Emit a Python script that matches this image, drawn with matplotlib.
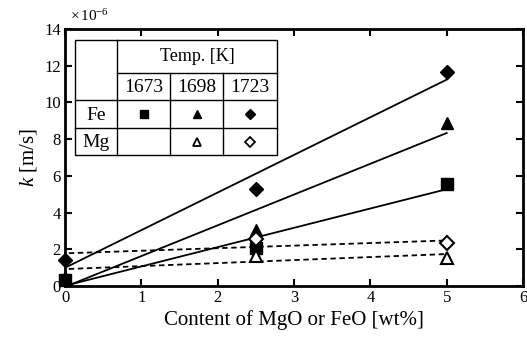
import numpy as np
import matplotlib.pyplot as plt

plt.rcParams['font.family'] = ['Liberation Serif', 'DejaVu Serif']
plt.rcParams['mathtext.fontset'] = 'custom'
plt.rcParams['mathtext.it'] = 'Liberation Serif:italic'
plt.rcParams['mathtext.rm'] = 'Liberation Serif'

# measured values (x in wt%, k in 1e-6 m/s)
x_fe = [0, 2.5, 5]
fe_1673 = [0.30, 2.07, 5.56]
fe_1698 = [0.50, 3.05, 8.88]
fe_1723 = [1.40, 5.30, 11.65]

x_mg = [2.5, 5]
mg_1698 = [1.65, 1.52]
mg_1723 = [2.55, 2.34]

# dashed Mg fits: (intercept, end value at 5 wt%)
mg_fit_1698 = [0.92, 1.74]
mg_fit_1723 = [1.78, 2.48]

temps = ['1673', '1698', '1723']

fig = plt.figure(figsize=(5.27, 3.38), dpi=100)
ax = fig.add_axes([65/527, 1 - 286/338, 458/527, 257/338])

xs = np.array([0, 5])
for y in [fe_1673, fe_1698, fe_1723]:
    p = np.polyfit(x_fe, y, 1)
    ax.plot(xs, np.polyval(p, xs), 'k-', lw=1.3)
for f in [mg_fit_1698, mg_fit_1723]:
    ax.plot([0.05, 5], [f[0] + (f[1] - f[0]) * 0.01, f[1]], 'k--', lw=1.3, dashes=(3, 2))

ax.plot(x_fe, fe_1673, 's', color='k', ms=8.5, clip_on=False, zorder=5)
ax.plot(x_fe, fe_1698, '^', color='k', ms=9, clip_on=False, zorder=5)
ax.plot(x_fe, fe_1723, 'D', color='k', ms=7, clip_on=False, zorder=5)
ax.plot(x_mg, mg_1698, '^', mfc='white', mec='k', mew=1.5, ms=9, zorder=6)
ax.plot(x_mg, mg_1723, 'D', mfc='white', mec='k', mew=1.5, ms=7, zorder=6)

ax.set_xlim(0, 6)
ax.set_ylim(0, 14)
ax.set_xticks(range(0, 7))
ax.set_yticks(range(0, 15, 2))
ax.tick_params(direction='in', length=5, width=1.5, top=True, right=True,
               labelsize=12, pad=3)
for s in ax.spines.values():
    s.set_linewidth(2)
ax.set_xlabel('Content of MgO or FeO [wt%]', fontsize=15, labelpad=3)
ax.set_ylabel('$k$ [m/s]', fontsize=15, labelpad=4)
fig.text(70/527, 1 - 16/338, r'$\times\,10^{-6}$', fontsize=11, va='center')

# legend table drawn in figure pixel coordinates
def px(x, y):
    return x / 527, 1 - y / 338

cols = [75, 117, 170, 223, 277]
rows = [40, 73, 100, 128, 155]
lkw = dict(color='k', lw=1.0, transform=fig.transFigure, zorder=8)
box = plt.Rectangle(px(75, 155), (277 - 75) / 527, (155 - 40) / 338,
                    transform=fig.transFigure, fc='white', ec='k', lw=1.0, zorder=7)
fig.patches.append(box)
for c in cols[1:-1]:
    top = rows[0] if c == cols[1] else rows[1]
    fig.lines.append(plt.Line2D([px(c, 0)[0]] * 2, [px(0, top)[1], px(0, rows[-1])[1]], **lkw))
fig.lines.append(plt.Line2D([px(cols[1], 0)[0], px(cols[-1], 0)[0]], [px(0, rows[1])[1]] * 2, **lkw))
for r in rows[2:4]:
    fig.lines.append(plt.Line2D([px(cols[0], 0)[0], px(cols[-1], 0)[0]], [px(0, r)[1]] * 2, **lkw))

fig.text(*px((cols[1] + cols[-1]) / 2, (rows[0] + rows[1]) / 2), 'Temp. [K]',
         fontsize=13, ha='center', va='center', zorder=8)
for i, t in enumerate(temps):
    fig.text(*px((cols[i + 1] + cols[i + 2]) / 2, (rows[1] + rows[2]) / 2 + 1), t,
             fontsize=14, ha='center', va='center', zorder=8)
fig.text(*px((cols[0] + cols[1]) / 2, (rows[2] + rows[3]) / 2 + 1), 'Fe',
         fontsize=14, ha='center', va='center', zorder=8)
fig.text(*px((cols[0] + cols[1]) / 2, (rows[3] + rows[4]) / 2 + 1), 'Mg',
         fontsize=14, ha='center', va='center', zorder=8)

fe_marks = ['s', '^', 'D']
for i, mk in enumerate(fe_marks):
    cx = px((cols[i + 1] + cols[i + 2]) / 2, 0)[0]
    fig.lines.append(plt.Line2D([cx], [px(0, (rows[2] + rows[3]) / 2)[1]], marker=mk,
                                color='k', ms=6 if mk != 'D' else 5, ls='none',
                                transform=fig.transFigure, zorder=9))
    if i > 0:
        fig.lines.append(plt.Line2D([cx], [px(0, (rows[3] + rows[4]) / 2)[1]], marker=mk,
                                    mfc='white', mec='k', mew=1.3,
                                    ms=6 if mk != 'D' else 5, ls='none',
                                    transform=fig.transFigure, zorder=9))

fig.savefig('out.png', dpi=100)
